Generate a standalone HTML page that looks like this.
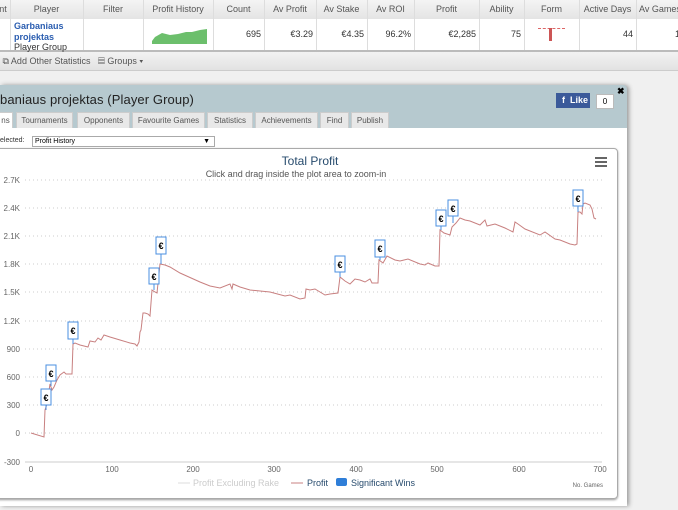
<!DOCTYPE html>
<html><head><meta charset="utf-8"><style>
body{margin:0;width:678px;height:510px;overflow:hidden;background:#f0f0f0;font-family:"Liberation Sans",sans-serif;position:relative}
.abs{position:absolute}
.hdr{top:0;left:0;width:678px;height:19px;background:linear-gradient(#f4f4f4,#e4e4e4);border-bottom:1px solid #ccc}
.row{top:19px;left:0;width:678px;height:31px;background:#fff;border-bottom:2px solid #bbb}
.c{position:absolute;font-size:9px;color:#555;top:0;height:19px;line-height:19px;text-align:center}
.d{position:absolute;font-size:9px;color:#333;top:19px;height:31px;line-height:31px;text-align:right}
.vl{position:absolute;top:0;width:1px;height:50px;background:#ddd}
.tab{position:absolute;top:112px;height:16px;background:#e8e8e8;border:1px solid #ccc;border-bottom:none;font-size:8px;color:#555;line-height:16px;text-align:center;box-sizing:border-box}
</style></head><body>
<div class="abs hdr"></div><div class="abs row"></div>
<div class="vl" style="left:10px"></div><div class="vl" style="left:83px"></div><div class="vl" style="left:143px"></div><div class="vl" style="left:213px"></div><div class="vl" style="left:264px"></div><div class="vl" style="left:316px"></div><div class="vl" style="left:367px"></div><div class="vl" style="left:414px"></div><div class="vl" style="left:479px"></div><div class="vl" style="left:524px"></div><div class="vl" style="left:579px"></div><div class="vl" style="left:636px"></div>
<div class="c" style="left:-4px;width:14px">nt</div><div class="c" style="left:10px;width:73px">Player</div><div class="c" style="left:83px;width:60px">Filter</div><div class="c" style="left:143px;width:70px">Profit History</div><div class="c" style="left:213px;width:51px">Count</div><div class="c" style="left:264px;width:52px">Av Profit</div><div class="c" style="left:316px;width:51px">Av Stake</div><div class="c" style="left:367px;width:47px">Av ROI</div><div class="c" style="left:414px;width:65px">Profit</div><div class="c" style="left:479px;width:45px">Ability</div><div class="c" style="left:524px;width:55px">Form</div><div class="c" style="left:579px;width:57px">Active Days</div><div class="c" style="left:636px;width:50px;text-align:left;padding-left:3px">Av Games</div>
<div class="abs" style="left:14px;top:21px;font-size:9px;line-height:10.5px;color:#2a5db0;font-weight:bold">Garbaniaus<br>projektas<br><span style="color:#333;font-weight:normal">Player Group</span></div>
<svg class="abs" style="left:152px;top:28px" width="56" height="16"><polygon points="0,16 0,13 3,9 10,5 18,7 26,6 34,4 40,4 48,2 55,1 55,16" fill="#6cbf6c"/></svg>
<div class="d" style="left:213px;width:48px">695</div><div class="d" style="left:264px;width:49px">€3.29</div><div class="d" style="left:316px;width:48px">€4.35</div><div class="d" style="left:367px;width:44px">96.2%</div><div class="d" style="left:414px;width:62px">€2,285</div><div class="d" style="left:479px;width:42px">75</div><div class="d" style="left:579px;width:54px">44</div><div class="d" style="left:636px;width:40px;text-align:left;padding-left:39px">1</div>
<div class="abs" style="left:538px;top:28px;width:27px;border-top:1px dashed #d66"></div><div class="abs" style="left:549px;top:28px;width:3px;height:13px;background:#c55"></div>
<div class="abs" style="left:0;top:52px;width:678px;height:18px;background:linear-gradient(#f2f2f2,#e2e2e2);border-bottom:1px solid #ccc;font-size:9px;color:#555;line-height:18px">&nbsp;⧉ Add Other Statistics &nbsp;&nbsp;▤ Groups ▾</div>
<div class="abs" style="left:0;top:85px;width:627px;height:421px;background:#b6c9cf;border-radius:0 4px 0 0;box-shadow:2px 0 4px #999"></div>
<div class="abs" style="left:0;top:92px;font-size:13px;color:#222;letter-spacing:0.1px">baniaus projektas (Player Group)</div>
<div class="abs" style="left:556px;top:93px;width:34px;height:15px;background:#3b5a9a;color:#fff;font-size:9px;font-weight:bold;line-height:15px;text-align:right;padding-right:2px;box-sizing:border-box">f&nbsp; Like</div>
<div class="abs" style="left:596px;top:94px;width:16px;height:13px;background:#fff;border:1px solid #bbb;font-size:8px;text-align:center;line-height:13px">0</div>
<div class="abs" style="left:617px;top:86px;font-size:9px;font-weight:bold">✖</div>
<div class="abs" style="left:0;top:128px;width:627px;height:378px;background:#fff"></div>
<div class="tab" style="left:-2px;width:15px;background:#fff">ns</div><div class="tab" style="left:16px;width:57px">Tournaments</div><div class="tab" style="left:77px;width:53px">Opponents</div><div class="tab" style="left:132px;width:73px">Favourite Games</div><div class="tab" style="left:207px;width:46px">Statistics</div><div class="tab" style="left:255px;width:63px">Achievements</div><div class="tab" style="left:320px;width:29px">Find</div><div class="tab" style="left:351px;width:38px">Publish</div>
<div class="abs" style="left:0;top:137px;font-size:7px;color:#333">elected:</div>
<div class="abs" style="left:32px;top:136px;width:183px;height:11px;border:1px solid #aaa;box-sizing:border-box;font-size:7px;line-height:10px;padding-left:2px">Profit History<span style="position:absolute;right:4px">▼</span></div>
<div class="abs" style="left:-5px;top:148px;width:621px;height:349px;border:1px solid #aaa;border-radius:4px;box-shadow:0 1px 2px #999"></div>
<svg class="abs" style="left:0;top:0" width="678" height="510" font-family="Liberation Sans, sans-serif">
<text x="310" y="165" text-anchor="middle" font-size="12" fill="#274b6d">Total Profit</text>
<text x="296" y="177" text-anchor="middle" font-size="9" fill="#555">Click and drag inside the plot area to zoom-in</text>
<g fill="#666"><rect x="595" y="157" width="12" height="2"/><rect x="595" y="161" width="12" height="2"/><rect x="595" y="165" width="12" height="2"/></g>
<g stroke="#ccc" stroke-dasharray="1,3"><line x1="25" x2="602" y1="180" y2="180"/><line x1="25" x2="602" y1="208" y2="208"/><line x1="25" x2="602" y1="236" y2="236"/><line x1="25" x2="602" y1="264" y2="264"/><line x1="25" x2="602" y1="292" y2="292"/><line x1="25" x2="602" y1="321" y2="321"/><line x1="25" x2="602" y1="349" y2="349"/><line x1="25" x2="602" y1="377" y2="377"/><line x1="25" x2="602" y1="405" y2="405"/><line x1="25" x2="602" y1="433" y2="433"/></g>
<line x1="25" x2="602" y1="462" y2="462" stroke="#ccc"/>
<g font-size="8" fill="#666" text-anchor="end"><text x="20" y="183">2.7K</text><text x="20" y="211">2.4K</text><text x="20" y="239">2.1K</text><text x="20" y="267">1.8K</text><text x="20" y="295">1.5K</text><text x="20" y="324">1.2K</text><text x="20" y="352">900</text><text x="20" y="380">600</text><text x="20" y="408">300</text><text x="20" y="436">0</text><text x="20" y="465">-300</text></g>
<g font-size="8" fill="#666" text-anchor="middle"><text x="31" y="472">0</text><text x="112" y="472">100</text><text x="193" y="472">200</text><text x="274" y="472">300</text><text x="356" y="472">400</text><text x="437" y="472">500</text><text x="519" y="472">600</text><text x="600" y="472">700</text></g>
<text x="603" y="487" font-size="6" fill="#666" text-anchor="end">No. Games</text>
<polyline fill="none" stroke="#c88080" stroke-width="1" points="31,433 44,437 45,410 47,404 50,384 52,390 54,387 57,380 60,375 64,372 66,374 70,374 72,374 73,344 75,343 80,345 88,347 90,341 95,342 98,338 101,340 104,335 110,337 120,340 130,343 135,344 137,346 139,342 140,332 141,330 143,313 145,313 148,314 150,316 152,290 155,292 157,293 160,264 165,265 170,267 180,273 200,282 210,286 220,288 230,284 232,289 233,284 240,287 250,290 270,292 285,296 290,295 300,299 305,298 306,289 310,290 315,289 320,292 325,295 330,294 338,293 340,277 345,281 350,284 353,281 355,279 360,280 365,282 370,279 372,283 378,283 379,260 383,263 387,256 395,260 400,261 408,259 420,264 425,265 428,263 435,266 439,266 440,230 444,233 450,235 452,227 456,223 460,218 465,220 470,221 480,225 483,222 485,220 487,226 495,224 500,226 505,228 513,232 515,222 518,224 525,229 540,235 545,232 555,239 560,240 570,244 575,245 577,244 578,212 580,212 582,214 583,204 585,203 590,205 592,209 594,218 596,219"/>
<g fill="#fff" stroke="#4a8fe0" stroke-width="1" font-size="9" font-weight="bold">
<g><line x1="46" y1="405" x2="46" y2="410"/><rect x="41" y="389" width="10" height="16"/><text x="46" y="401" text-anchor="middle" fill="#000" stroke="none">€</text></g>
<g><line x1="51" y1="381" x2="51" y2="386"/><rect x="46" y="365" width="10" height="16"/><text x="51" y="377" text-anchor="middle" fill="#000" stroke="none">€</text></g>
<g><line x1="73" y1="339" x2="73" y2="344"/><rect x="68" y="322" width="10" height="17"/><text x="73" y="334" text-anchor="middle" fill="#000" stroke="none">€</text></g>
<g><line x1="154" y1="284" x2="154" y2="290"/><rect x="149" y="268" width="10" height="16"/><text x="154" y="280" text-anchor="middle" fill="#000" stroke="none">€</text></g>
<g><line x1="161" y1="254" x2="161" y2="264"/><rect x="156" y="237" width="10" height="17"/><text x="161" y="249" text-anchor="middle" fill="#000" stroke="none">€</text></g>
<g><line x1="340" y1="272" x2="340" y2="277"/><rect x="335" y="256" width="10" height="16"/><text x="340" y="268" text-anchor="middle" fill="#000" stroke="none">€</text></g>
<g><line x1="380" y1="257" x2="380" y2="260"/><rect x="375" y="240" width="10" height="17"/><text x="380" y="252" text-anchor="middle" fill="#000" stroke="none">€</text></g>
<g><line x1="441" y1="226" x2="441" y2="230"/><rect x="436" y="210" width="10" height="16"/><text x="441" y="222" text-anchor="middle" fill="#000" stroke="none">€</text></g>
<g><line x1="453" y1="216" x2="453" y2="223"/><rect x="448" y="200" width="10" height="16"/><text x="453" y="212" text-anchor="middle" fill="#000" stroke="none">€</text></g>
<g><line x1="578" y1="206" x2="578" y2="212"/><rect x="573" y="190" width="10" height="16"/><text x="578" y="202" text-anchor="middle" fill="#000" stroke="none">€</text></g>
</g>
<line x1="178" x2="190" y1="483" y2="483" stroke="#ddd"/><text x="193" y="486" font-size="9" fill="#ccc">Profit Excluding Rake</text>
<line x1="291" x2="303" y1="483" y2="483" stroke="#c88080"/><text x="307" y="486" font-size="9" fill="#274b6d">Profit</text>
<rect x="336" y="478" width="11" height="8" rx="2" fill="#2f7ed8"/><text x="351" y="486" font-size="9" fill="#274b6d">Significant Wins</text>
</svg>
</body></html>
